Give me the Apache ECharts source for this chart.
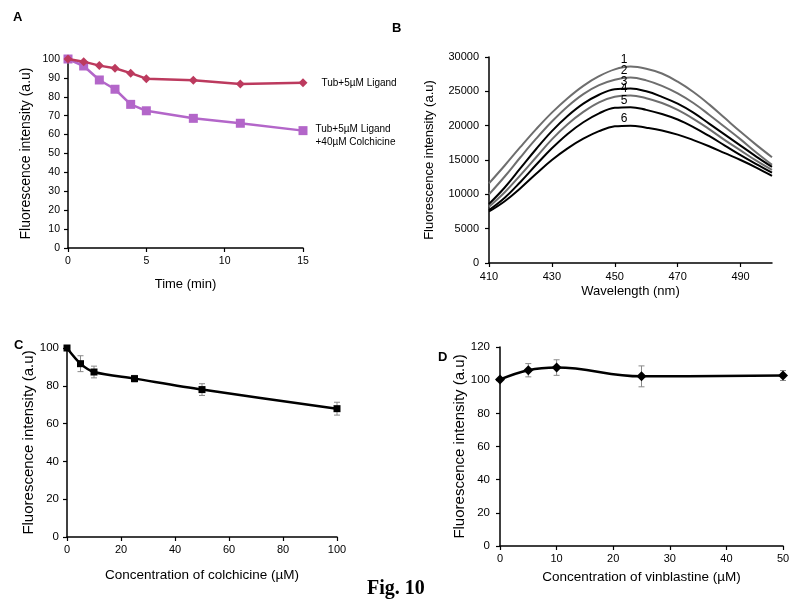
<!DOCTYPE html>
<html>
<head>
<meta charset="utf-8">
<script src="https://cdn.jsdelivr.net/npm/echarts@6/dist/echarts.min.js"></script>
<style>html,body{margin:0;padding:0;background:#fff}#c{width:797px;height:606px}</style>
</head>
<body>
<div id="c"></div>
<script>
// Panel A
const timeA = [0, 1, 2, 3, 4, 5, 8, 11, 15];
const ligandA = [100, 98.6, 96.5, 95.1, 92.5, 89.6, 88.8, 86.8, 87.4];
const colchA = [100, 96.3, 88.9, 84, 76, 72.6, 68.6, 66, 62.1];
const nameLigand = 'Tub+5µM Ligand';
const nameColch = 'Tub+5µM Ligand\n+40µM Colchicine';
// Panel B
const wavelength = [410, 415, 420, 425, 430, 435, 440, 445, 450, 455, 460, 465, 470, 475, 480, 485, 490, 495, 500];
const spec1 = [11600, 14200, 16900, 19500, 21900, 24000, 25800, 27200, 28200, 28600, 28300, 27600, 26400, 24900, 23100, 21100, 19100, 17200, 15400];
const spec2 = [10000, 12600, 15400, 18100, 20600, 22800, 24600, 25900, 26700, 27000, 26600, 25800, 24700, 23300, 21600, 19800, 18000, 16100, 14300];
const spec3 = [8600, 11000, 13800, 16600, 19200, 21400, 23200, 24500, 25300, 25400, 25000, 24200, 23200, 21900, 20300, 18700, 17100, 15500, 14000];
const spec4 = [8200, 10300, 12800, 15400, 18000, 20200, 22000, 23400, 24200, 24400, 24000, 23300, 22300, 21000, 19500, 17900, 16400, 14900, 13550];
const spec5 = [7700, 9500, 11800, 14300, 16700, 18800, 20500, 21800, 22600, 22700, 22300, 21700, 20900, 19800, 18500, 17100, 15700, 14400, 13150];
const spec6 = [7500, 9000, 10900, 13000, 15000, 16700, 18100, 19200, 19900, 20000, 19700, 19300, 18700, 17900, 17000, 16000, 15000, 13900, 12700];
const specLabels = ['1', '2', '3', '4', '5', '6'];
const specColors = ['#6e6e6e', '#6e6e6e', '#000000', '#6e6e6e', '#000000', '#000000'];
// Panel C
const concC = [0, 5, 10, 25, 50, 100];
const intensC = [100, 91.7, 87.3, 83.8, 78, 67.9];
const errC = [0, 4.2, 3.1, 1.7, 3.1, 3.4];
// Panel D
const concD = [0, 5, 10, 25, 50];
const intensD = [100.4, 106, 107.6, 102.3, 102.8];
const errD = [0, 4, 4.7, 6.3, 3];

const FONT = '"Liberation Sans", Arial, sans-serif';
const chart = echarts.init(document.getElementById('c'), null, {renderer: 'canvas'});

function zip(xs, ys) { return xs.map((x, i) => [x, ys[i]]); }
const plain = v => String(v);

function axisX(gridIndex, min, max, interval, name, labelSize, nameSize, nameGap, labelMargin) {
  return {
    type: 'value', gridIndex, min, max, interval,
    name, nameLocation: 'middle', nameGap,
    nameTextStyle: {fontFamily: FONT, fontSize: nameSize, color: '#000'},
    axisLine: {show: true, onZero: false, lineStyle: {color: '#000', width: 1.5}},
    axisTick: {show: true, inside: false, length: 4, lineStyle: {color: '#000', width: 1.2}},
    axisLabel: {fontFamily: FONT, fontSize: labelSize, color: '#000', margin: labelMargin, formatter: plain},
    splitLine: {show: false}
  };
}
function axisY(gridIndex, min, max, interval, name, labelSize, nameSize, nameGap, labelMargin) {
  return {
    type: 'value', gridIndex, min, max, interval,
    name, nameLocation: 'middle', nameGap,
    nameTextStyle: {fontFamily: FONT, fontSize: nameSize, color: '#000'},
    axisLine: {show: true, onZero: false, lineStyle: {color: '#000', width: 1.5}},
    axisTick: {show: true, inside: false, length: 4, lineStyle: {color: '#000', width: 1.2}},
    axisLabel: {fontFamily: FONT, fontSize: labelSize, color: '#000', margin: labelMargin, formatter: plain},
    splitLine: {show: false}
  };
}

function errorSeries(xi, yi, xs, ys, es) {
  return {
    type: 'custom', xAxisIndex: xi, yAxisIndex: yi, z: 1,
    data: xs.map((x, i) => [x, ys[i] - es[i], ys[i] + es[i]]),
    renderItem: function (params, api) {
      const lo = api.coord([api.value(0), api.value(1)]);
      const hi = api.coord([api.value(0), api.value(2)]);
      const w = 3;
      const st = {stroke: '#8a8a8a', lineWidth: 1};
      return {type: 'group', children: [
        {type: 'line', shape: {x1: lo[0], y1: lo[1], x2: hi[0], y2: hi[1]}, style: st},
        {type: 'line', shape: {x1: lo[0] - w, y1: lo[1], x2: lo[0] + w, y2: lo[1]}, style: st},
        {type: 'line', shape: {x1: hi[0] - w, y1: hi[1], x2: hi[0] + w, y2: hi[1]}, style: st}
      ]};
    }
  };
}

const specs = [spec1, spec2, spec3, spec4, spec5, spec6];
const specSeries = specs.map((s, k) => ({
  type: 'line', xAxisIndex: 1, yAxisIndex: 1, smooth: 0.4, symbol: 'none',
  lineStyle: {color: specColors[k], width: 2},
  data: zip(wavelength, s),
  markPoint: {
    symbol: 'circle', symbolSize: 1, itemStyle: {color: 'rgba(0,0,0,0)'},
    label: {show: true, position: 'top', distance: 0, formatter: specLabels[k], fontFamily: FONT, fontSize: 12, color: '#000'},
    data: [{coord: [453, Math.max.apply(null, s)]}]
  }
}));

const lastIdx = timeA.length - 1;
const letterStyle = {fontFamily: FONT, fontSize: 13, fontWeight: 'bold', color: '#000'};
const option = {
  animation: false,
  backgroundColor: '#fff',
  title: [
    {text: 'A', left: 8, top: 6, textStyle: letterStyle},
    {text: 'B', left: 387, top: 17, textStyle: letterStyle},
    {text: 'C', left: 9, top: 334, textStyle: letterStyle},
    {text: 'D', left: 433, top: 346, textStyle: letterStyle},
    {text: 'Fig. 10', left: 362, top: 574, textStyle: {fontFamily: '"Liberation Serif", "Times New Roman", serif', fontSize: 20, fontWeight: 'bold', color: '#000'}}
  ],
  grid: [
    {left: 68, top: 59, width: 235, height: 189},
    {left: 489, top: 57, width: 283, height: 206},
    {left: 67, top: 348, width: 270, height: 189},
    {left: 500, top: 347, width: 283, height: 199}
  ],
  xAxis: [
    axisX(0, 0, 15, 5, 'Time (min)', 10.5, 13, 30, 8),
    axisX(1, 410, 500, 20, 'Wavelength (nm)', 11, 13, 22, 8),
    axisX(2, 0, 100, 20, 'Concentration of colchicine (µM)', 11, 13.5, 31, 7),
    axisX(3, 0, 50, 10, 'Concentration of vinblastine (µM)', 11, 13.5, 24, 7)
  ],
  yAxis: [
    axisY(0, 0, 100, 10, 'Fluorescence intensity (a.u)', 10.5, 14, 35, 8),
    axisY(1, 0, 30000, 5000, 'Fluorescence intensity (a.u)', 11, 13, 53, 10),
    axisY(2, 0, 100, 20, 'Fluorescence intensity (a.u)', 11.5, 15, 25, 8),
    axisY(3, 0, 120, 20, 'Fluorescence intensity (a.u)', 11.5, 15, 24, 10)
  ],
  series: [
    {
      type: 'line', xAxisIndex: 0, yAxisIndex: 0, symbol: 'diamond', symbolSize: 9,
      itemStyle: {color: '#bc3a5e'}, lineStyle: {color: '#bc3a5e', width: 2.5},
      data: timeA.map((t, i) => i === lastIdx ? {value: [t, ligandA[i]], label: {show: true, position: 'right', distance: 14, formatter: nameLigand, fontFamily: FONT, fontSize: 10, color: '#000'}} : [t, ligandA[i]])
    },
    {
      type: 'line', xAxisIndex: 0, yAxisIndex: 0, symbol: 'rect', symbolSize: 9, z: 1,
      itemStyle: {color: '#b366c9'}, lineStyle: {color: '#b366c9', width: 2.5},
      data: timeA.map((t, i) => i === lastIdx ? {value: [t, colchA[i]], label: {show: true, position: 'right', distance: 8, offset: [0, 5], align: 'left', formatter: nameColch, fontFamily: FONT, fontSize: 10, lineHeight: 13, color: '#000'}} : [t, colchA[i]])
    }
  ].concat(specSeries).concat([
    errorSeries(2, 2, concC, intensC, errC),
    {
      type: 'line', xAxisIndex: 2, yAxisIndex: 2, smooth: 0.3, symbol: 'rect', symbolSize: 7, z: 3,
      itemStyle: {color: '#000'}, lineStyle: {color: '#000', width: 2.5},
      data: zip(concC, intensC)
    },
    errorSeries(3, 3, concD, intensD, errD),
    {
      type: 'line', xAxisIndex: 3, yAxisIndex: 3, smooth: 0.4, symbol: 'diamond', symbolSize: 10, z: 3,
      itemStyle: {color: '#000'}, lineStyle: {color: '#000', width: 2.5},
      data: zip(concD, intensD)
    }
  ])
};
option.xAxis[1].axisLabel.showMaxLabel = false;
chart.setOption(option);
</script>
</body>
</html>
